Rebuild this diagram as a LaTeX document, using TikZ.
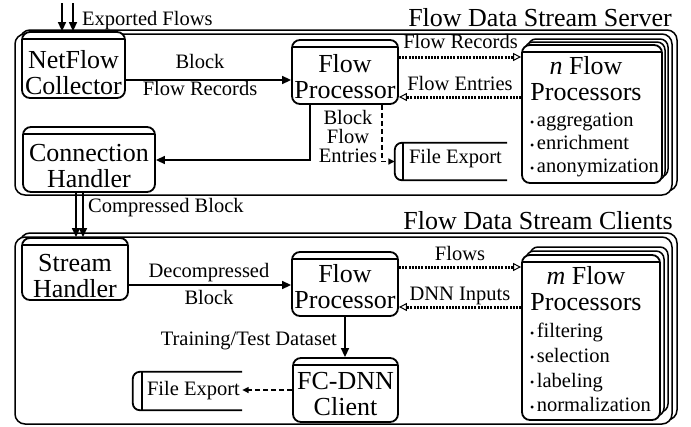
\documentclass[tikz,border=0pt]{standalone}
\usepackage{fontspec}
\setmainfont{Liberation Serif}
\usetikzlibrary{arrows.meta}
\newcommand{\BoxFont}{\fontsize{26}{26.5}\selectfont}
\newcommand{\LblFont}{\fontsize{20.5}{22}\selectfont}
\newcommand{\ListDot}{{\fontsize{12}{12}\selectfont\raisebox{0.5pt}{•}}\hspace{2.5pt}}
\begin{document}
\begin{tikzpicture}[x=1pt,y=-1pt,
  proc/.style={draw, line width=1.8pt, rounded corners=8pt, fill=white, inner sep=0pt,
    path picture={\draw[line width=1.4pt] ([yshift=-7pt]path picture bounding box.north west) -- ([yshift=-7pt]path picture bounding box.north east);}},
  copybox/.style={draw, line width=1.5pt, rounded corners=8pt, fill=white, inner sep=0pt},
  frame/.style={draw, line width=1.5pt, rounded corners=10pt, fill=white},
  storebox/.style={inner sep=0pt},
  storeline/.style={line width=1.8pt, rounded corners=7pt},
  boxtxt/.style={font=\BoxFont, align=center, anchor=south, text depth=0pt, inner sep=0pt},
  lbl/.style={font=\LblFont, inner sep=0pt},
  title/.style={font=\fontsize{26}{26}\selectfont, inner sep=0pt, anchor=base east},
  arr/.style={line width=1.5pt, -{Triangle[length=9pt,width=8pt]}},
  darr/.style={line width=1.5pt, dash pattern=on 5pt off 3pt, -{Triangle[length=6.5pt,width=6pt]}},
  dotarr/.style={line width=3pt, dash pattern=on 2pt off 1.2pt, -{Triangle[open,length=8pt,width=8pt,line width=1pt]}},
  listtxt/.style={font={\fontsize{20.5}{23}\selectfont}, align=left, anchor=south west, text depth=0pt, inner sep=0pt}
]
\useasboundingbox (0,0) rectangle (691,426);

% helper coordinates
\coordinate (ex1) at (62,3);
\coordinate (ex2) at (73,3);
\coordinate (y80) at (0,80);
\coordinate (y57) at (0,57);
\coordinate (y97) at (0,97);
\coordinate (y160) at (0,160);
\coordinate (x310) at (310,0);
\coordinate (x382) at (382,0);
\coordinate (x76) at (76,0);
\coordinate (x83) at (83,0);
\coordinate (y285) at (0,285);
\coordinate (y267) at (0,267);
\coordinate (y307) at (0,307);
\coordinate (y390) at (0,390);

% ---------- server ----------
\node[title] (tser) at (672,26) {Flow Data Stream Server};
\draw[frame] (20,30) rectangle (677,191);
\draw[frame] (15,34) rectangle (672,195);

\node[proc, minimum width=103pt, minimum height=66pt] (nf) at (73.5,65) {};
\node[boxtxt] (nft) at (73.5,95) {NetFlow\\Collector};

\node[proc, minimum width=106pt, minimum height=64pt] (fp1) at (345,72) {};
\node[boxtxt] (fp1t) at (345,99) {Flow\\Processor};

\node[copybox, minimum width=140pt, minimum height=138pt] (ns2) at (598,108) {};
\node[copybox, minimum width=140pt, minimum height=138pt] (ns1) at (595,111) {};
\node[proc, minimum width=140pt, minimum height=138pt] (ns) at (592,114) {};
\node[boxtxt] (nst) at (586,101) {\textit{n} Flow\\Processors};
\node[listtxt] (nsl) at (530,173) {\ListDot aggregation\\\ListDot enrichment\\\ListDot anonymization};

\node[proc, minimum width=132pt, minimum height=65pt] (ch) at (89,159.5) {};
\node[boxtxt] (cht) at (89,188) {Connection\\Handler};

\node[storebox, minimum width=112pt, minimum height=37pt] (fe1) at (451,161.5) {};
\draw[storeline] (fe1.north east) -- (fe1.north west) -- (fe1.south west) -- (fe1.south east);
\draw[line width=1.5pt] ([xshift=8pt]fe1.north west) -- ([xshift=8pt]fe1.south west);
\node[lbl, anchor=base] (fe1t) at (455.5,163) {File Export};

\node[lbl, anchor=base west] (lexp) at (82,25) {Exported Flows};
\draw[arr] (ex1) -- (ex1 |- nf.north);
\draw[arr] (ex2) -- (ex2 |- nf.north);

\draw[arr] (nf.east |- y80) -- (fp1.west |- y80);
\node[lbl, align=center, anchor=south, text depth=0pt, font={\fontsize{20.5}{27}\selectfont}] (lbfr) at (200,96) {Block\\Flow Records};

\draw[dotarr] (fp1.east |- y57) -- (ns.west |- y57);
\node[lbl, anchor=base] (lfr) at (460.5,48) {Flow Records};
\draw[dotarr] (ns.west |- y97) -- (fp1.east |- y97);
\node[lbl, anchor=base] (lfe) at (460,90) {Flow Entries};

\draw[arr] (fp1.south -| x310) |- (ch.east |- y160);
\draw[darr] (fp1.south -| x382) |- (fe1.west);
\node[lbl, align=center, anchor=south, text depth=0pt, font={\fontsize{20.5}{19}\selectfont}] (lbfe) at (348,163) {Block\\Flow\\Entries};

% ---------- clients ----------
\node[title] (tcli) at (673,229) {Flow Data Stream Clients};
\draw[frame] (20,233) rectangle (677,420);
\draw[frame] (15,237) rectangle (672,424);

\node[proc, minimum width=106pt, minimum height=62pt] (sh) at (75,269) {};
\node[boxtxt] (sht) at (75,298) {Stream\\Handler};

\draw[arr] (ch.south -| x76) -- (sh.north -| x76);
\draw[arr] (ch.south -| x83) -- (sh.north -| x83);
\node[lbl, anchor=base west] (lcb) at (88,212) {Compressed Block};

\node[proc, minimum width=106pt, minimum height=64pt] (fp2) at (345,284) {};
\node[boxtxt] (fp2t) at (345,309) {Flow\\Processor};

\node[copybox, minimum width=138pt, minimum height=165pt] (ms2) at (599,329.5) {};
\node[copybox, minimum width=138pt, minimum height=165pt] (ms1) at (595,333.5) {};
\node[proc, minimum width=138pt, minimum height=165pt] (ms) at (591,337.5) {};
\node[boxtxt] (mst) at (586,311) {\textit{m} Flow\\Processors};
\node[listtxt, font={\fontsize{20.5}{24.7}\selectfont}] (msl) at (530,412) {\ListDot filtering\\\ListDot selection\\\ListDot labeling\\\ListDot normalization};

\node[proc, minimum width=105pt, minimum height=64pt] (fc) at (345.5,390) {};
\node[boxtxt] (fct) at (345.5,416) {FC-DNN\\Client};

\node[storebox, minimum width=109pt, minimum height=38pt] (fe2) at (187.5,391) {};
\draw[storeline] (fe2.north east) -- (fe2.north west) -- (fe2.south west) -- (fe2.south east);
\draw[line width=1.5pt] ([xshift=9pt]fe2.north west) -- ([xshift=9pt]fe2.south west);
\node[lbl, anchor=base] (fe2t) at (193.5,395) {File Export};

\draw[arr] (sh.east |- y285) -- (fp2.west |- y285);
\node[lbl, align=center, anchor=south, text depth=0pt, font={\fontsize{20.5}{27}\selectfont}] (ldb) at (209,305) {Decompressed\\Block};

\draw[dotarr] (fp2.east |- y267) -- (ms.west |- y267);
\node[lbl, anchor=base] (lfl) at (460,260) {Flows};
\draw[dotarr] (ms.west |- y307) -- (fp2.east |- y307);
\node[lbl, anchor=base] (ldnn) at (460,300) {DNN Inputs};

\draw[arr] (fp2.south) -- (fp2.south |- fc.north);
\node[lbl, anchor=base east] (ltt) at (337,345) {Training/Test Dataset};

\draw[darr] (fc.west |- y390) -- (fe2.east |- y390);
\end{tikzpicture}
\end{document}
